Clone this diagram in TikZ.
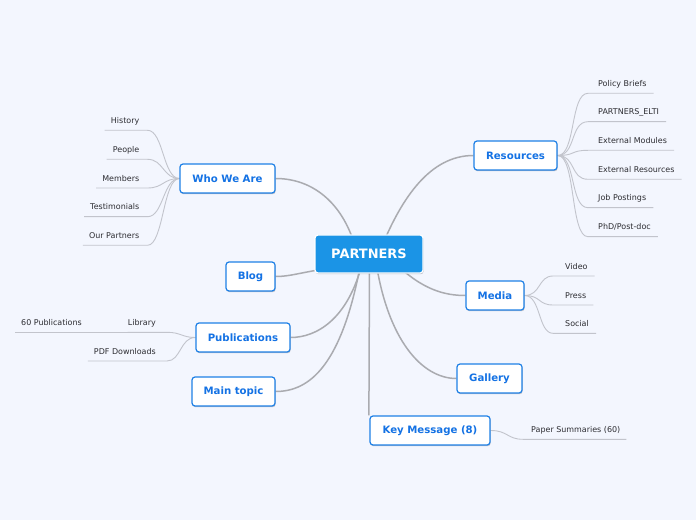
\documentclass[tikz,border=0pt]{standalone}
\usepackage{fontspec}
\setmainfont{DejaVu Sans}
\usetikzlibrary{shadows}
\pgfdeclarelayer{back}
\pgfdeclarelayer{lines}
\pgfsetlayers{back,lines,main}
\definecolor{bgc}{RGB}{243,246,254}
\definecolor{tblue}{RGB}{20,114,228}
\definecolor{bblue}{RGB}{30,128,230}
\definecolor{cfill}{RGB}{27,148,230}
\definecolor{conn}{RGB}{170,171,176}
\definecolor{lline}{RGB}{194,196,204}
\definecolor{ltext}{RGB}{45,45,50}
\tikzset{
  topic/.style={draw=bblue, line width=1.2bp, fill=white, rounded corners=3bp,
    text=tblue, font=\bfseries\fontsize{10.2}{12}\selectfont, minimum height=29bp,
    inner sep=0pt, drop shadow={shadow xshift=0.6bp, shadow yshift=-1.2bp, opacity=0.22, fill=black}},
  central/.style={draw=white, line width=1.2bp, fill=cfill, rounded corners=3bp,
    text=white, font=\bfseries\fontsize{13}{15}\selectfont, minimum width=108bp, minimum height=38bp,
    inner sep=0pt, drop shadow={shadow xshift=0.6bp, shadow yshift=-1.2bp, opacity=0.22, fill=black}},
  leaf/.style={inner xsep=0bp, inner ysep=4.6bp, text height=6bp, text depth=2bp,
    text=ltext, font=\fontsize{8}{10}\selectfont},
  mainline/.style={draw=conn, line width=1.5bp},
  leafline/.style={draw=lline, line width=0.9bp},
}
\begin{document}
\begin{tikzpicture}[x=1bp,y=-1bp]
\begin{pgfonlayer}{back}
\fill[bgc] (0,0) rectangle (696,520);
\end{pgfonlayer}
\useasboundingbox (0,0) rectangle (696,520);

% central topic
\node[central] (ctr) at (369,254) {PARTNERS};

% topics
\node[topic, minimum width=83bp] (res) at (515.5,155.5) {Resources};
\node[topic, minimum width=95bp] (who) at (227.5,178.5) {Who We Are};
\node[topic, minimum width=49bp] (blog) at (250.5,276.5) {Blog};
\node[topic, minimum width=94bp] (pub) at (243,337.5) {Publications};
\node[topic, minimum width=83bp] (mt) at (233.5,391.5) {Main topic};
\node[topic, minimum width=58bp] (med) at (495,295.5) {Media};
\node[topic, minimum width=65bp] (gal) at (489.5,378.5) {Gallery};
\node[topic, minimum width=120bp] (key) at (430,430.5) {Key Message (8)};

% connector start points on the central topic
\coordinate (cRes) at (382,246);
\coordinate (cWho) at (355,246);
\coordinate (cBlog) at (330,268);
\coordinate (cPub) at (362.5,262);
\coordinate (cMain) at (361,262);
\coordinate (cMed) at (394,262);
\coordinate (cGal) at (376,262);
\coordinate (cKey) at (369.5,262);

\begin{pgfonlayer}{lines}
\draw[mainline] (cRes) .. controls (402,198) and (430,155.5) .. (res.west);
\draw[mainline] (cWho) .. controls (342,202) and (312,178.5) .. (who.east);
\draw[mainline] (cBlog) .. controls (298,273) and (290,276.5) .. (blog.east);
\draw[mainline] (cPub) .. controls (348,320) and (316,337.5) .. (pub.east);
\draw[mainline] (cMain) .. controls (342,365) and (310,391.5) .. (mt.east);
\draw[mainline] (cMed) .. controls (422,290) and (445,295.5) .. (med.west);
\draw[mainline] (cGal) .. controls (388,340) and (422,378.5) .. (gal.west);
\draw[mainline] (cKey) -- ([xshift=-0.5bp]key.north west);
\end{pgfonlayer}

% Resources leaves (text left edge, line y)
\node[leaf, anchor=south west] (r1) at (598,93.3) {Policy Briefs};
\node[leaf, anchor=south west] (r2) at (598,121.7) {PARTNERS\_ELTI};
\node[leaf, anchor=south west] (r3) at (598,150.3) {External Modules};
\node[leaf, anchor=south west] (r4) at (598,179.3) {External Resources};
\node[leaf, anchor=south west] (r5) at (598,207.7) {Job Postings};
\node[leaf, anchor=south west] (r6) at (598,236.7) {PhD/Post-doc};

% Who We Are leaves (text right edge, line y)
\node[leaf, anchor=south east] (w1) at (139.5,130.3) {History};
\node[leaf, anchor=south east] (w2) at (139.5,159.3) {People};
\node[leaf, anchor=south east] (w3) at (139.5,188) {Members};
\node[leaf, anchor=south east] (w4) at (139.5,216.7) {Testimonials};
\node[leaf, anchor=south east] (w5) at (139.5,245.3) {Our Partners};

% Publications leaves
\node[leaf, anchor=south east] (p1) at (156,332.3) {Library};
\node[leaf, anchor=south east] (p2) at (156,361) {PDF Downloads};
\node[leaf, anchor=south west] (p11) at (21,332.3) {60 Publications};

% Media leaves
\node[leaf, anchor=south west] (m1) at (565,276) {Video};
\node[leaf, anchor=south west] (m2) at (565,305) {Press};
\node[leaf, anchor=south west] (m3) at (565,333.3) {Social};

% Key Message leaf
\node[leaf, anchor=south west] (k1) at (531,439.3) {Paper Summaries (60)};

\begin{pgfonlayer}{lines}
\foreach \l in {r1,r2,r3,r4,r5,r6}{
  \draw[leafline] (res.east) .. controls (576,155.5) and ([xshift=-28bp]\l.south west) .. ([xshift=-10bp]\l.south west) -- ([xshift=7bp]\l.south east);
}
\foreach \l in {w1,w2,w3,w4,w5}{
  \draw[leafline] (who.west) .. controls (163,178.5) and ([xshift=24bp]\l.south east) .. ([xshift=8bp]\l.south east) -- ([xshift=-6bp]\l.south west);
}
\draw[leafline] (pub.west) .. controls (182,337.5) and ([xshift=25bp]p1.south east) .. ([xshift=11bp]p1.south east) -- (p1.south west);
\draw[leafline] (pub.west) .. controls (180,337.5) and ([xshift=25bp]p2.south east) .. ([xshift=11bp]p2.south east) -- ([xshift=-6bp]p2.south west);
\draw[leafline] (p1.south west) -- ([xshift=6bp]p11.south east) -- ([xshift=-6bp]p11.south west);
\foreach \l in {m1,m2,m3}{
  \draw[leafline] (med.east) .. controls (541,295.5) and ([xshift=-27bp]\l.south west) .. ([xshift=-12bp]\l.south west) -- ([xshift=7bp]\l.south east);
}
\draw[leafline] (key.east) .. controls (508,430.5) and ([xshift=-24bp]k1.south west) .. ([xshift=-8bp]k1.south west) -- ([xshift=6bp]k1.south east);
\end{pgfonlayer}
\end{tikzpicture}
\end{document}
